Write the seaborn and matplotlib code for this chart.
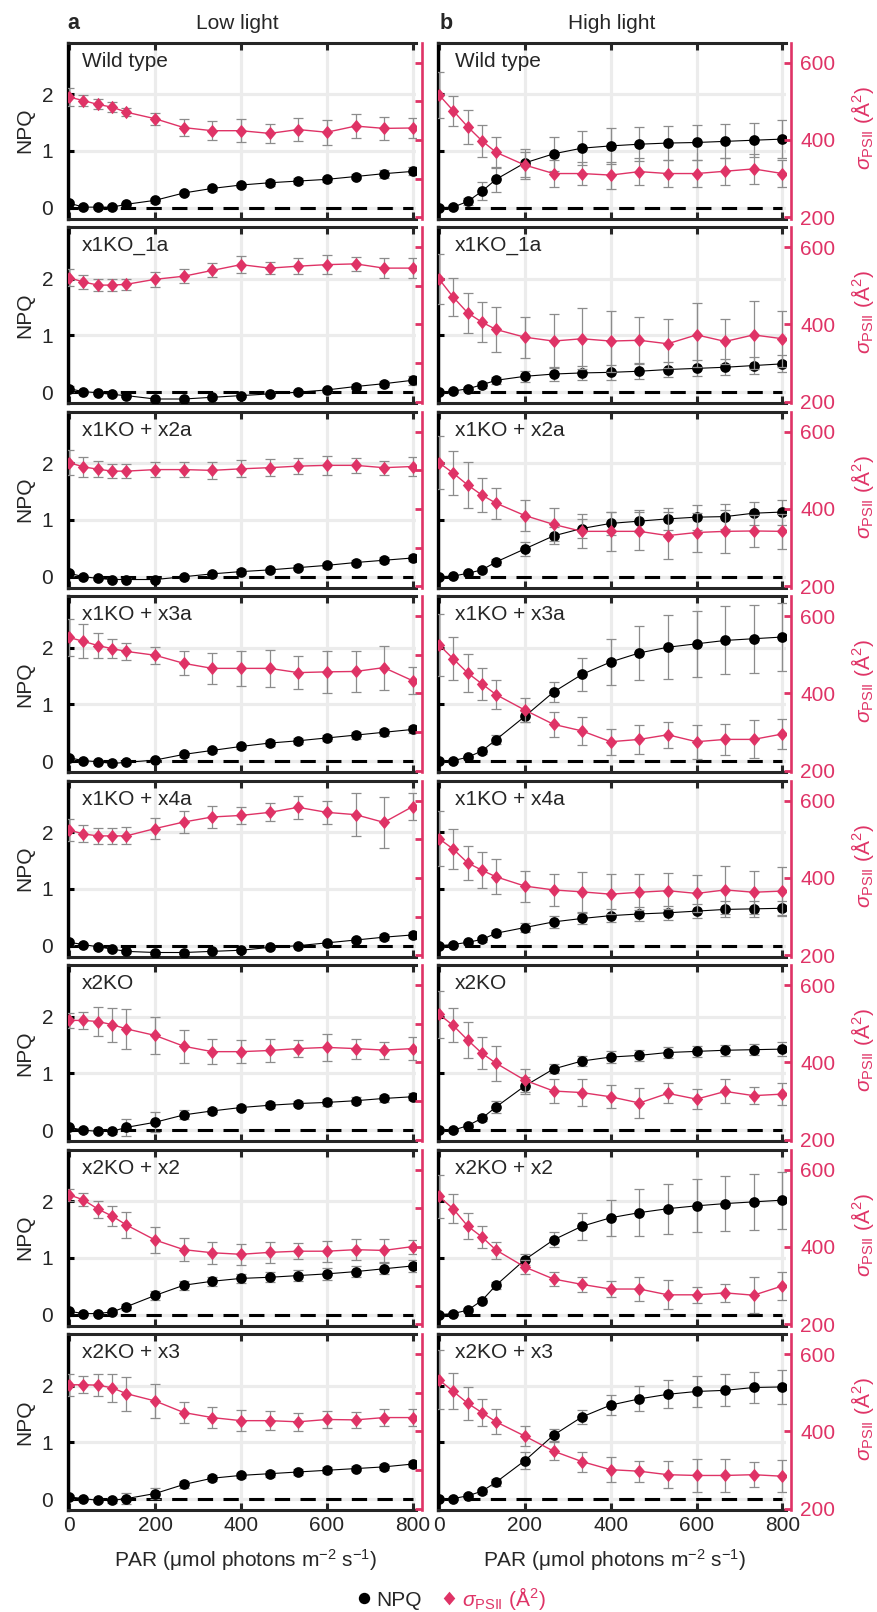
import numpy as np
import matplotlib
matplotlib.use('Agg')
import matplotlib.pyplot as plt
from matplotlib.lines import Line2D
import seaborn as sns

sns.set_style('white')
plt.rcParams['font.family'] = ['Liberation Sans', 'DejaVu Sans']
plt.rcParams['mathtext.fontset'] = 'custom'
plt.rcParams['mathtext.rm'] = 'Liberation Sans'
plt.rcParams['mathtext.it'] = 'Liberation Sans:italic'
plt.rcParams['mathtext.bf'] = 'Liberation Sans:bold'

# ---------------- data ----------------
PAR = [0, 33, 67, 100, 133, 200, 267, 333, 400, 467, 533, 600, 667, 733, 800]
strains = ["Wild type", "x1KO_1a", "x1KO + x2a", "x1KO + x3a",
           "x1KO + x4a", "x2KO", "x2KO + x2", "x2KO + x3"]

# Low light NPQ
ll_npq_wt = [0.08, 0.01, 0.01, 0.01, 0.06, 0.13, 0.26, 0.34, 0.40, 0.44, 0.47, 0.50, 0.55, 0.60, 0.64]
ll_npq_1a = [0.06, 0.01, -0.01, -0.04, -0.06, -0.12, -0.12, -0.09, -0.06, -0.03, 0.00, 0.04, 0.10, 0.15, 0.21]
ll_npq_2a = [0.06, 0.00, -0.03, -0.05, -0.05, -0.05, 0.00, 0.05, 0.09, 0.12, 0.16, 0.20, 0.25, 0.29, 0.33]
ll_npq_3a = [0.06, 0.01, -0.01, -0.04, -0.02, 0.02, 0.12, 0.19, 0.26, 0.32, 0.36, 0.41, 0.46, 0.51, 0.56]
ll_npq_4a = [0.06, 0.02, -0.02, -0.06, -0.10, -0.12, -0.12, -0.10, -0.08, -0.03, 0.00, 0.05, 0.10, 0.15, 0.19]
ll_npq_x2ko = [0.05, 0.00, -0.02, -0.02, 0.05, 0.14, 0.27, 0.34, 0.40, 0.44, 0.47, 0.49, 0.52, 0.56, 0.59]
ll_npq_x2 = [0.06, 0.02, 0.02, 0.05, 0.14, 0.34, 0.52, 0.59, 0.64, 0.66, 0.69, 0.72, 0.76, 0.81, 0.86]
ll_npq_x3 = [0.04, 0.01, -0.02, -0.02, 0.01, 0.10, 0.26, 0.37, 0.42, 0.45, 0.48, 0.51, 0.54, 0.57, 0.62]

ll_npq_err_wt = [0.04, 0.03, 0.03, 0.03, 0.03, 0.04, 0.04, 0.04, 0.04, 0.05, 0.05, 0.05, 0.05, 0.07, 0.07]
ll_npq_err_1a = [0.05, 0.03, 0.03, 0.03, 0.03, 0.03, 0.03, 0.03, 0.03, 0.03, 0.03, 0.04, 0.04, 0.05, 0.08]
ll_npq_err_2a = [0.04, 0.03, 0.03, 0.03, 0.03, 0.03, 0.03, 0.03, 0.04, 0.04, 0.04, 0.04, 0.05, 0.05, 0.05]
ll_npq_err_3a = [0.04, 0.03, 0.03, 0.03, 0.03, 0.03, 0.04, 0.05, 0.05, 0.05, 0.05, 0.06, 0.06, 0.06, 0.06]
ll_npq_err_4a = [0.04, 0.03, 0.03, 0.03, 0.03, 0.03, 0.03, 0.03, 0.03, 0.03, 0.03, 0.04, 0.04, 0.05, 0.06]
ll_npq_err_x2ko = [0.03, 0.03, 0.03, 0.04, 0.15, 0.18, 0.08, 0.06, 0.05, 0.05, 0.05, 0.06, 0.06, 0.06, 0.06]
ll_npq_err_x2 = [0.03, 0.03, 0.03, 0.03, 0.05, 0.08, 0.08, 0.08, 0.08, 0.09, 0.09, 0.10, 0.10, 0.10, 0.10]
ll_npq_err_x3 = [0.03, 0.03, 0.03, 0.04, 0.10, 0.10, 0.06, 0.05, 0.05, 0.05, 0.05, 0.05, 0.05, 0.05, 0.05]

# Low light sigma PSII
ll_sig_wt = [511, 502, 492, 485, 472, 455, 432, 424, 424, 417, 427, 420, 436, 430, 431]
ll_sig_1a = [521, 510, 502, 502, 504, 517, 525, 540, 555, 546, 551, 555, 557, 546, 546]
ll_sig_2a = [520, 509, 503, 498, 498, 502, 502, 500, 504, 507, 511, 513, 513, 507, 510]
ll_sig_3a = [545, 535, 524, 516, 509, 499, 478, 465, 465, 465, 454, 456, 457, 467, 433]
ll_sig_4a = [524, 514, 509, 509, 509, 528, 545, 558, 562, 570, 583, 570, 564, 544, 585]
ll_sig_x2ko = [509, 509, 506, 498, 487, 470, 442, 428, 428, 431, 436, 439, 436, 432, 436]
ll_sig_x2 = [535, 522, 498, 480, 457, 418, 393, 385, 381, 386, 389, 389, 393, 391, 401]
ll_sig_x3 = [521, 521, 520, 513, 498, 479, 449, 436, 428, 428, 425, 431, 430, 436, 436]

ll_sig_err_wt = [24, 15, 13, 13, 10, 15, 22, 25, 30, 25, 30, 32, 30, 30, 25]
ll_sig_err_1a = [22, 18, 15, 15, 15, 20, 18, 18, 22, 15, 20, 24, 18, 25, 25]
ll_sig_err_2a = [33, 25, 20, 18, 18, 20, 20, 22, 22, 22, 20, 25, 20, 18, 25]
ll_sig_err_3a = [47, 44, 33, 25, 22, 22, 31, 41, 45, 47, 42, 54, 54, 57, 35]
ll_sig_err_4a = [28, 22, 20, 20, 22, 28, 28, 28, 23, 23, 29, 30, 55, 67, 35]
ll_sig_err_x2ko = [19, 23, 37, 44, 52, 48, 43, 32, 30, 31, 21, 36, 26, 22, 30]
ll_sig_err_x2 = [16, 17, 22, 26, 33, 34, 29, 29, 27, 27, 20, 27, 27, 30, 18]
ll_sig_err_x3 = [29, 22, 28, 36, 44, 43, 28, 28, 28, 24, 23, 21, 21, 22, 23]

# High light NPQ
hl_npq_wt = [0.00, 0.01, 0.11, 0.29, 0.50, 0.79, 0.95, 1.05, 1.09, 1.12, 1.14, 1.15, 1.17, 1.19, 1.21]
hl_npq_1a = [0.00, 0.02, 0.06, 0.13, 0.21, 0.28, 0.32, 0.34, 0.35, 0.37, 0.40, 0.42, 0.44, 0.47, 0.50]
hl_npq_2a = [0.00, 0.01, 0.06, 0.12, 0.26, 0.49, 0.72, 0.85, 0.94, 0.98, 1.02, 1.05, 1.06, 1.12, 1.14]
hl_npq_3a = [0.00, 0.01, 0.07, 0.18, 0.38, 0.79, 1.22, 1.53, 1.75, 1.91, 2.01, 2.07, 2.13, 2.16, 2.19]
hl_npq_4a = [0.00, 0.02, 0.06, 0.11, 0.22, 0.32, 0.42, 0.48, 0.53, 0.56, 0.58, 0.61, 0.64, 0.65, 0.66]
hl_npq_x2ko = [0.00, 0.00, 0.08, 0.21, 0.41, 0.78, 1.08, 1.22, 1.29, 1.32, 1.37, 1.39, 1.41, 1.42, 1.43]
hl_npq_x2 = [0.00, 0.02, 0.08, 0.25, 0.52, 0.97, 1.32, 1.56, 1.71, 1.80, 1.87, 1.92, 1.96, 1.99, 2.02]
hl_npq_x3 = [0.00, 0.01, 0.06, 0.14, 0.30, 0.68, 1.13, 1.45, 1.66, 1.77, 1.85, 1.90, 1.92, 1.97, 1.98]

hl_npq_err_wt = [0.02, 0.03, 0.06, 0.16, 0.22, 0.25, 0.30, 0.30, 0.32, 0.30, 0.30, 0.30, 0.30, 0.30, 0.33]
hl_npq_err_1a = [0.02, 0.03, 0.04, 0.05, 0.06, 0.10, 0.12, 0.12, 0.13, 0.13, 0.13, 0.14, 0.14, 0.15, 0.15]
hl_npq_err_2a = [0.02, 0.02, 0.03, 0.04, 0.06, 0.13, 0.15, 0.16, 0.20, 0.20, 0.20, 0.22, 0.22, 0.20, 0.22]
hl_npq_err_3a = [0.02, 0.02, 0.03, 0.05, 0.08, 0.10, 0.17, 0.29, 0.41, 0.48, 0.56, 0.58, 0.60, 0.60, 0.60]
hl_npq_err_4a = [0.02, 0.02, 0.03, 0.04, 0.05, 0.08, 0.10, 0.10, 0.12, 0.12, 0.12, 0.13, 0.14, 0.14, 0.13]
hl_npq_err_x2ko = [0.02, 0.02, 0.03, 0.05, 0.10, 0.15, 0.08, 0.09, 0.10, 0.10, 0.10, 0.10, 0.10, 0.10, 0.12]
hl_npq_err_x2 = [0.02, 0.02, 0.03, 0.05, 0.06, 0.10, 0.13, 0.24, 0.32, 0.41, 0.44, 0.47, 0.48, 0.49, 0.50]
hl_npq_err_x3 = [0.02, 0.02, 0.03, 0.04, 0.06, 0.15, 0.10, 0.12, 0.17, 0.22, 0.25, 0.28, 0.28, 0.27, 0.30]

# High light sigma PSII
hl_sig_wt = [517, 476, 434, 398, 368, 335, 313, 313, 309, 318, 313, 313, 319, 325, 313]
hl_sig_1a = [518, 471, 430, 406, 387, 367, 357, 363, 357, 359, 350, 373, 356, 373, 363]
hl_sig_2a = [520, 493, 462, 436, 415, 383, 360, 342, 342, 342, 331, 339, 342, 343, 342]
hl_sig_3a = [526, 490, 453, 425, 397, 357, 320, 303, 275, 281, 293, 275, 281, 281, 295]
hl_sig_4a = [502, 475, 439, 420, 403, 379, 369, 364, 358, 363, 367, 360, 369, 363, 366]
hl_sig_x2ko = [525, 496, 458, 424, 398, 354, 326, 322, 311, 295, 320, 305, 325, 314, 318]
hl_sig_x2 = [531, 499, 454, 426, 392, 348, 317, 303, 291, 291, 276, 276, 281, 275, 299]
hl_sig_x3 = [534, 504, 473, 449, 425, 388, 349, 322, 301, 297, 288, 286, 286, 288, 284]

hl_sig_err_wt = [60, 39, 44, 42, 40, 35, 35, 30, 35, 35, 35, 35, 35, 38, 35]
hl_sig_err_1a = [65, 49, 52, 52, 58, 53, 71, 79, 79, 60, 63, 82, 58, 89, 73]
hl_sig_err_2a = [68, 57, 60, 45, 40, 40, 42, 44, 51, 49, 60, 50, 55, 42, 45]
hl_sig_err_3a = [80, 55, 50, 42, 37, 30, 32, 36, 34, 38, 34, 44, 40, 49, 39]
hl_sig_err_4a = [72, 53, 45, 47, 45, 40, 42, 51, 51, 47, 47, 47, 62, 56, 62]
hl_sig_err_x2ko = [61, 44, 47, 42, 45, 30, 31, 34, 30, 38, 26, 25, 31, 22, 29]
hl_sig_err_x2 = [56, 38, 33, 28, 22, 19, 19, 19, 20, 30, 38, 21, 23, 46, 36]
hl_sig_err_x3 = [76, 47, 43, 35, 32, 25, 23, 26, 32, 27, 35, 43, 43, 33, 41]

ll_npq = [ll_npq_wt, ll_npq_1a, ll_npq_2a, ll_npq_3a, ll_npq_4a, ll_npq_x2ko, ll_npq_x2, ll_npq_x3]
ll_npq_err = [ll_npq_err_wt, ll_npq_err_1a, ll_npq_err_2a, ll_npq_err_3a, ll_npq_err_4a, ll_npq_err_x2ko, ll_npq_err_x2, ll_npq_err_x3]
ll_sig = [ll_sig_wt, ll_sig_1a, ll_sig_2a, ll_sig_3a, ll_sig_4a, ll_sig_x2ko, ll_sig_x2, ll_sig_x3]
ll_sig_err = [ll_sig_err_wt, ll_sig_err_1a, ll_sig_err_2a, ll_sig_err_3a, ll_sig_err_4a, ll_sig_err_x2ko, ll_sig_err_x2, ll_sig_err_x3]
hl_npq = [hl_npq_wt, hl_npq_1a, hl_npq_2a, hl_npq_3a, hl_npq_4a, hl_npq_x2ko, hl_npq_x2, hl_npq_x3]
hl_npq_err = [hl_npq_err_wt, hl_npq_err_1a, hl_npq_err_2a, hl_npq_err_3a, hl_npq_err_4a, hl_npq_err_x2ko, hl_npq_err_x2, hl_npq_err_x3]
hl_sig = [hl_sig_wt, hl_sig_1a, hl_sig_2a, hl_sig_3a, hl_sig_4a, hl_sig_x2ko, hl_sig_x2, hl_sig_x3]
hl_sig_err = [hl_sig_err_wt, hl_sig_err_1a, hl_sig_err_2a, hl_sig_err_3a, hl_sig_err_4a, hl_sig_err_x2ko, hl_sig_err_x2, hl_sig_err_x3]

columns = [(ll_npq, ll_npq_err, ll_sig, ll_sig_err),
           (hl_npq, hl_npq_err, hl_sig, hl_sig_err)]
col_titles = ["Low light", "High light"]
col_letters = ["a", "b"]

# ---------------- style ----------------
PINK = '#DF3366'
ERR = '#8c8c8c'
FS = 15
W, H = 877, 1612
col_left = [68.4, 438.1]
AW, AH = 347.7, 176.0
tops = [42.7 + 184.5 * r for r in range(8)]
DIAMOND = [(0, 1), (0.85, 0), (0, -1), (-0.85, 0), (0, 1)]

fig = plt.figure(figsize=(W / 100, H / 100), dpi=100)

for c in range(2):
    npq_all, npq_err_all, sig_all, sig_err_all = columns[c]
    for r in range(8):
        ax = fig.add_axes([col_left[c] / W, 1 - (tops[r] + AH) / H, AW / W, AH / H])
        ax.set_axisbelow(True)
        ax.set_xlim(-2, 808)
        ax.set_ylim(-0.194, 2.91)
        ax.set_xticks([0, 200, 400, 600, 800])
        ax.set_yticks([0, 1, 2])
        ax.grid(True, color='#ececec', lw=2.3)
        ax.hlines(0, PAR[0], PAR[-1], colors='k', lw=2.2,
                  linestyles=(0, (5, 3.4)), zorder=1.5)
        ax.errorbar(PAR, npq_all[r], yerr=npq_err_all[r], fmt='none', ecolor=ERR,
                    elinewidth=0.9, capsize=3.5, capthick=0.9, zorder=2)
        sns.lineplot(x=PAR, y=npq_all[r], ax=ax, color='k', linewidth=0.8,
                     marker='o', markersize=7.7, markeredgewidth=0,
                     markeredgecolor='k', legend=False, zorder=3, sort=False)
        ax.set_xlabel('')
        ax.set_ylabel('')
        for s in ['top', 'bottom']:
            ax.spines[s].set_color('#262626')
            ax.spines[s].set_linewidth(2.2)
        ax.spines['left'].set_color('k')
        ax.spines['left'].set_linewidth(2.4)
        ax.spines['right'].set_visible(False)
        ax.tick_params(axis='x', which='both', direction='in', top=True, bottom=True,
                       length=5, width=2.2, color='#262626',
                       labelbottom=(r == 7), labelsize=FS, pad=4)
        ax.tick_params(axis='y', direction='in', left=True, right=False, length=4,
                       width=2.2, color='k', labelleft=(c == 0), labelsize=FS, pad=11)

        ax2 = ax.twinx()
        ax2.set_ylim(196, 652)
        ax2.errorbar(PAR, sig_all[r], yerr=sig_err_all[r], fmt='none', ecolor=ERR,
                     elinewidth=0.9, capsize=3.5, capthick=0.9, zorder=2)
        sns.lineplot(x=PAR, y=sig_all[r], ax=ax2, color=PINK, linewidth=1.0,
                     marker=DIAMOND, markersize=9.6, markeredgewidth=0,
                     markeredgecolor=PINK, legend=False, zorder=3, sort=False)
        ax2.set_ylabel('')
        for s in ['top', 'bottom', 'left']:
            ax2.spines[s].set_visible(False)
        ax2.spines['right'].set_position(('outward', 4))
        ax2.spines['right'].set_color(PINK)
        ax2.spines['right'].set_linewidth(1.9)
        if c == 0:
            ax2.set_yticks([200, 300, 400, 500, 600])
            ax2.tick_params(axis='y', direction='in', length=5, width=2.0,
                            color=PINK, labelright=False)
        else:
            ax2.set_yticks([200, 400, 600])
            ax2.tick_params(axis='y', direction='in', length=5, width=2.0,
                            color=PINK, labelright=True, labelcolor=PINK,
                            labelsize=FS, pad=6.5)
        ax.set_zorder(1)
        ax2.set_zorder(2)

        # panel label
        ax.text(0.038 if c == 0 else 0.048, 0.895, strains[r], transform=ax.transAxes,
                ha='left', va='center', fontsize=FS, zorder=5)

        yc = 1 - (tops[r] + AH / 2) / H
        if c == 0:
            fig.text(25 / W, yc, 'NPQ', rotation=90, ha='center', va='center', fontsize=FS)
        else:
            fig.text(863 / W, yc + 3 / H, r'$\sigma_{\mathrm{PSII}}$ (Å$^2$)', rotation=90,
                     ha='center', va='center', fontsize=FS, color=PINK)

    cx = (col_left[c] + AW / 2) / W
    fig.text(cx - (5 if c == 0 else 0) / W, 1 - 23.3 / H, col_titles[c],
             ha='center', va='center', fontsize=FS)
    fig.text((73.7 if c == 0 else 445.8) / W, 1 - 23.3 / H, col_letters[c],
             ha='center', va='center', fontsize=FS + 0.5, fontweight='bold')
    fig.text(cx + 3 / W, 1 - 1560 / H, r'PAR ($\mathregular{\mu}$mol photons m$^{-2}$ s$^{-1}$)',
             ha='center', va='center', fontsize=FS)

handles = [Line2D([], [], marker='o', color='k', ls='none', markersize=8.2, markeredgewidth=0),
           Line2D([], [], marker=DIAMOND, color=PINK, ls='none', markersize=9.8, markeredgewidth=0)]
leg = fig.legend(handles, ['NPQ', r'$\sigma_{\mathrm{PSII}}$ (Å$^2$)'], loc='center',
                 bbox_to_anchor=(0.515, 1 - 1598 / H), ncol=2, frameon=False, fontsize=FS,
                 handletextpad=0.3, columnspacing=1.0, handlelength=0.6)
leg.get_texts()[1].set_color(PINK)

fig.savefig('out.png', dpi=100)
